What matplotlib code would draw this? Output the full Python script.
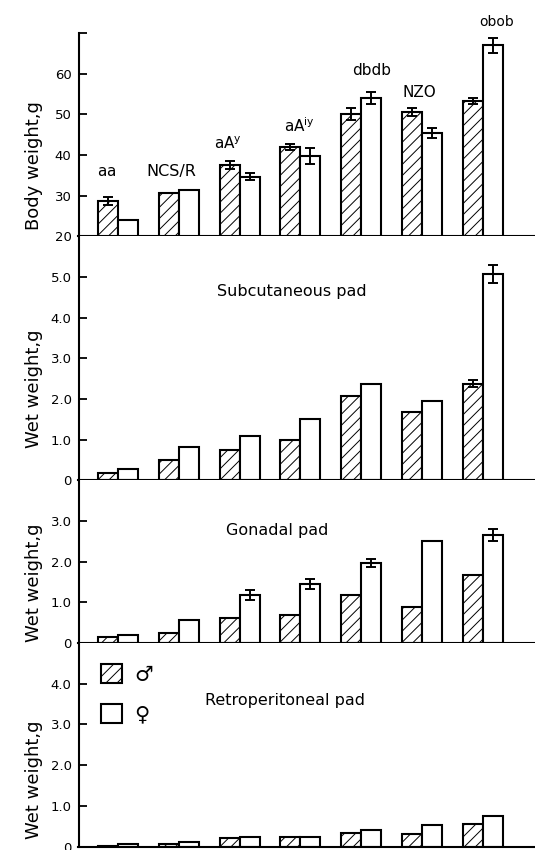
import numpy as np
import matplotlib
matplotlib.use("Agg")
import matplotlib.pyplot as plt
from matplotlib.patches import Patch

# ---------------- data ----------------
strains = ["aa", "NCS/R", "aA^y", "aA^iy", "dbdb", "NZO", "obob"]
strain_labels = [r"$\mathregular{aa}$", "NCS/R", r"$\mathregular{aA^y}$",
                 r"$\mathregular{aA^{iy}}$", "dbdb", "NZO", "obob"]

body_male = [28.8, 30.6, 37.5, 42.0, 50.0, 50.6, 53.2]
body_female = [24.1, 31.4, 34.7, 39.8, 54.0, 45.5, 67.0]
body_male_err = [1.0, 0, 1.0, 0.7, 1.5, 0.9, 0.7]
body_female_err = [0, 0, 0.9, 2.0, 1.5, 1.2, 1.8]

subq_male = [0.19, 0.49, 0.74, 1.00, 2.08, 1.68, 2.38]
subq_female = [0.29, 0.82, 1.10, 1.50, 2.37, 1.96, 5.07]
subq_male_err = [0, 0, 0, 0, 0, 0, 0.08]
subq_female_err = [0, 0, 0, 0, 0, 0, 0.22]

gon_male = [0.15, 0.25, 0.62, 0.69, 1.18, 0.89, 1.67]
gon_female = [0.19, 0.58, 1.18, 1.45, 1.98, 2.50, 2.65]
gon_male_err = [0, 0, 0, 0, 0, 0, 0]
gon_female_err = [0, 0, 0.12, 0.12, 0.10, 0, 0.15]

retro_male = [0.02, 0.06, 0.22, 0.24, 0.34, 0.31, 0.55]
retro_female = [0.07, 0.10, 0.24, 0.24, 0.41, 0.52, 0.74]

panel_titles = ["", "Subcutaneous pad", "Gonadal pad", "Retroperitoneal pad"]
y_labels = ["Body weight,g", "Wet weight,g", "Wet weight,g", "Wet weight,g"]
y_limits = [(20, 70), (0, 6), (0, 4), (0, 5)]
y_ticks = [[20, 30, 40, 50, 60, 70], [0, 1, 2, 3, 4, 5], [0, 1, 2, 3], [0, 1, 2, 3, 4]]
y_ticklabels = [["20", "30", "40", "50", "60", ""],
                ["0", "1.0", "2.0", "3.0", "4.0", "5.0"],
                ["0", "1.0", "2.0", "3.0"],
                ["0", "1.0", "2.0", "3.0", "4.0"]]

# label placement (positions, not data)
label_x = [-0.18, 0.87, 1.81, 2.98, 4.18, 4.95, 6.23]
label_y = [36.0, 36.0, 42.8, 47.3, 60.8, 55.4, 72.8]
label_size = [11, 11.5, 11, 11, 11, 11, 10]

# ---------------- style ----------------
plt.rcParams["font.family"] = ["DejaVu Sans"]
plt.rcParams["hatch.linewidth"] = 0.7
plt.rcParams["mathtext.default"] = "regular"

fig = plt.figure(figsize=(5.35, 8.5), dpi=100)
gs = fig.add_gridspec(4, 1, height_ratios=[5, 6, 4, 5], hspace=0,
                      left=78.5 / 535, right=1.0,
                      top=1 - 33 / 850, bottom=3.5 / 850)
axes = [fig.add_subplot(gs[i]) for i in range(4)]

x = np.arange(len(strains))
w = 0.33
lw = 1.5

panels = [
    (body_male, body_female, body_male_err, body_female_err),
    (subq_male, subq_female, subq_male_err, subq_female_err),
    (gon_male, gon_female, gon_male_err, gon_female_err),
    (retro_male, retro_female, [0] * 7, [0] * 7),
]

label_pos_y = [0.35, 0.377, 0.37, 0.33]
title_pos = [None, (0.468, 0.775), (0.436, 0.69), (0.452, 0.72)]

for i, (ax, (m, f, me, fe)) in enumerate(zip(axes, panels)):
    ax.bar(x - w / 2, m, w, facecolor="white", edgecolor="black",
           hatch="///", linewidth=lw, zorder=2)
    ax.bar(x + w / 2, f, w, facecolor="white", edgecolor="black",
           linewidth=lw, zorder=2)
    me = np.array(me, float)
    fe = np.array(fe, float)
    mm = me > 0
    fm = fe > 0
    if mm.any():
        ax.errorbar((x - w / 2)[mm], np.array(m)[mm], yerr=me[mm], fmt="none",
                    ecolor="black", elinewidth=1.4, capsize=3.5, capthick=1.4, zorder=3)
    if fm.any():
        ax.errorbar((x + w / 2)[fm], np.array(f)[fm], yerr=fe[fm], fmt="none",
                    ecolor="black", elinewidth=1.4, capsize=3.5, capthick=1.4, zorder=3)

    ax.set_xlim(-0.65, 6.86)
    ax.set_ylim(*y_limits[i])
    ax.set_yticks(y_ticks[i])
    ax.set_yticklabels(y_ticklabels[i])
    ax.set_xticks([])
    for s in ["top", "right"]:
        ax.spines[s].set_visible(False)
    ax.spines["left"].set_linewidth(1.5)
    ax.spines["bottom"].set_linewidth(1.5)
    ax.tick_params(axis="y", direction="in", length=6, width=1.3,
                   labelsize=9.5, pad=5)
    ax.set_ylabel(y_labels[i], fontsize=13)
    ax.yaxis.set_label_coords(-0.078, label_pos_y[i])
    if title_pos[i] is not None:
        ax.text(title_pos[i][0], title_pos[i][1], panel_titles[i],
                transform=ax.transAxes, ha="center", va="center", fontsize=11.5)

# strain labels on top panel
for lx, ly, lab, fs in zip(label_x, label_y, strain_labels, label_size):
    axes[0].text(lx, ly, lab, ha="center", va="center", fontsize=fs, clip_on=False)

# legend
handles = [Patch(facecolor="white", edgecolor="black", hatch="///", linewidth=1.5),
           Patch(facecolor="white", edgecolor="black", linewidth=1.5)]
axes[3].legend(handles, ["\u2642", "\u2640"], loc="upper left",
               bbox_to_anchor=(0.049, 0.897), frameon=False, fontsize=15,
               handlelength=1.0, handleheight=1.0, handletextpad=0.6,
               labelspacing=0.95, borderpad=0, borderaxespad=0)

fig.savefig("out.png", dpi=100)
